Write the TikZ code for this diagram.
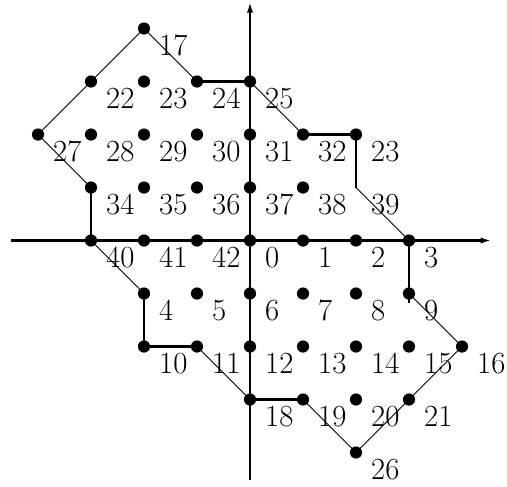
\documentclass[tikz,border=0pt]{standalone}
\usetikzlibrary{arrows.meta,calc}
\begin{document}
\begin{tikzpicture}[x=1cm,y=1cm,
  dot/.style={circle,fill=black,inner sep=0pt,minimum size=0.23cm},
  lab/.style={anchor=west,inner sep=0pt,font=\fontsize{16.5}{19}\selectfont},
  axis/.style={line width=1.1pt,-{Latex[length=2mm,width=1.2mm]}},
  thinedge/.style={line width=0.5pt},
  thickedge/.style={line width=1.2pt}]
\useasboundingbox (-4.717,-4.632) rectangle (4.849,4.538);
% axes
\coordinate (xl) at (-4.5,0); \coordinate (xr) at (4.55,0);
\coordinate (yb) at (0,-4.52); \coordinate (yt) at (0,4.5);
\draw[axis] (xl) -- (xr);
\draw[axis] (yb) -- (yt);
% points and labels
\foreach \x/\y/\t in {-2/4/17,
  -3/3/22,-2/3/23,-1/3/24,0/3/25,
  -4/2/27,-3/2/28,-2/2/29,-1/2/30,0/2/31,1/2/32,2/2/23,
  -3/1/34,-2/1/35,-1/1/36,0/1/37,1/1/38,
  -3/0/40,-2/0/41,-1/0/42,0/0/0,1/0/1,2/0/2,3/0/3,
  -2/-1/4,-1/-1/5,0/-1/6,1/-1/7,2/-1/8,3/-1/9,
  -2/-2/10,-1/-2/11,0/-2/12,1/-2/13,2/-2/14,3/-2/15,4/-2/16,
  0/-3/18,1/-3/19,2/-3/20,3/-3/21,
  2/-4/26}{
  \pgfmathtruncatemacro\cx{\x+4}
  \pgfmathtruncatemacro\cy{\y+4}
  \coordinate (p\cx\cy) at (\x,\y);
  \node[lab] (l\cx\cy) at ([shift={(0.28,-0.32)}]\x,\y) {\t};
}
\coordinate (p65) at (2,1);
\node[lab] (l65) at ([shift={(0.28,-0.32)}]2,1) {39};
\coordinate (q73) at (3,-1.17);
% polygon
\draw[thinedge] (p65) -- (p74);
\draw[thinedge] (p28) -- (p17) -- (p06) -- (p15);
\draw[thickedge] (p15) -- (p14);
\draw[thinedge] (p14) -- (p23);
\draw[thickedge] (p23) -- (p22) -- (p32);
\draw[thinedge] (p32) -- (p41);
\draw[thickedge] (p41) -- (p51);
\draw[thinedge] (p51) -- (p60) -- (p82) -- (p73);
\draw[thickedge] (p74) -- (q73);
\draw[thickedge] (p65) -- (p66) -- (p56);
\draw[thinedge] (p56) -- (p47);
\draw[thickedge] (p47) -- (p37);
\draw[thinedge] (p37) -- (p28);
% dots on top
\foreach \x/\y in {-2/4,
  -3/3,-2/3,-1/3,0/3,
  -4/2,-3/2,-2/2,-1/2,0/2,1/2,2/2,
  -3/1,-2/1,-1/1,0/1,1/1,
  -3/0,-2/0,-1/0,0/0,1/0,2/0,3/0,
  -2/-1,-1/-1,0/-1,1/-1,2/-1,3/-1,
  -2/-2,-1/-2,0/-2,1/-2,2/-2,3/-2,4/-2,
  0/-3,1/-3,2/-3,3/-3,
  2/-4}{
  \pgfmathtruncatemacro\cx{\x+4}
  \pgfmathtruncatemacro\cy{\y+4}
  \node[dot] (d\cx\cy) at (p\cx\cy) {};
}
\end{tikzpicture}
\end{document}
